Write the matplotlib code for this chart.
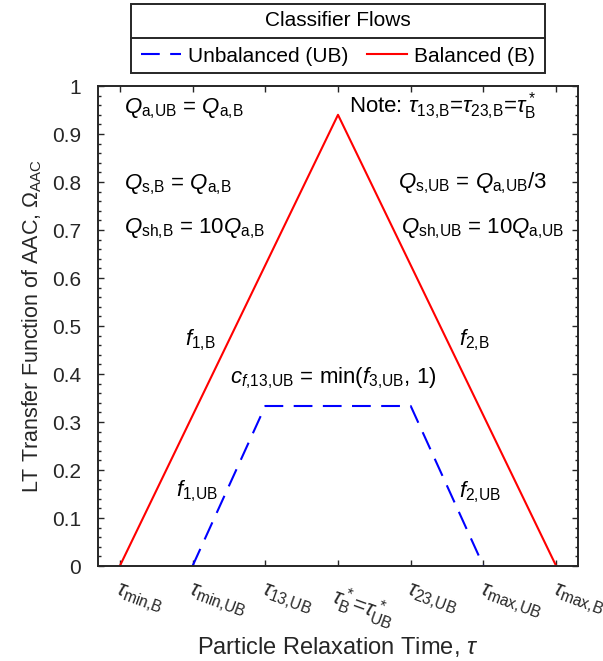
#Plot of LT transfer function of AAC, balanced vs unbalanced classifier flows
import matplotlib
matplotlib.use('Agg')
import matplotlib.pyplot as plt
from matplotlib.ticker import MultipleLocator, FixedLocator
from matplotlib.patches import Rectangle
from matplotlib.lines import Line2D

plt.rcParams['font.family'] = 'Liberation Sans'
plt.rcParams['mathtext.fontset'] = 'custom'
plt.rcParams['mathtext.rm'] = 'Liberation Sans'
plt.rcParams['mathtext.it'] = 'Liberation Sans:italic'
plt.rcParams['mathtext.bf'] = 'Liberation Sans:bold'

#################################################
# Data
#################################################
tau_pos = [0, 1, 2, 3, 4, 5, 6]
tau_labels = [r'$\tau_{\rm min{,}B}$', r'$\tau_{\rm min{,}UB}$', r'$\tau_{\rm 13{,}UB}$',
              r'$\tau^*_{\rm B}$=$\tau^*_{\rm UB}$', r'$\tau_{\rm 23{,}UB}$',
              r'$\tau_{\rm max{,}UB}$', r'$\tau_{\rm max{,}B}$']
#Balanced (B)
bal_x = [0, 3, 6]
bal_y = [0, 0.94, 0]
#Unbalanced (UB)
unb_x = [1, 2, 4, 5]
unb_y = [0, 1/3, 1/3, 0]

yticks = [0, 0.1, 0.2, 0.3, 0.4, 0.5, 0.6, 0.7, 0.8, 0.9, 1]
ylabels = ['0', '0.1', '0.2', '0.3', '0.4', '0.5', '0.6', '0.7', '0.8', '0.9', '1']

#################################################
# Figure
#################################################
fig = plt.figure(figsize=(6.03, 6.61), dpi=100)
ax = fig.add_axes([98/603, 1-566/661, 480/603, 480/661])

dk = (0.15, 0.15, 0.15)
l_unb, = ax.plot(unb_x, unb_y, color=(0, 0, 1), lw=1.5, linestyle=(0, (9, 5)))
l_bal, = ax.plot(bal_x, bal_y, color=(1, 0, 0), lw=1.5)

ax.set_xlim(-0.3, 6.3)
ax.set_ylim(0, 1)
ax.xaxis.set_major_locator(FixedLocator(tau_pos))
ax.set_xticklabels(tau_labels, rotation=-20, ha='left', rotation_mode='anchor', fontsize=16)
ax.set_yticks(yticks)
ax.set_yticklabels(ylabels)
ax.yaxis.set_minor_locator(MultipleLocator(0.02))
ax.tick_params(which='both', direction='in', top=True, right=True, color=dk,
               labelcolor=dk, width=1.0)
ax.tick_params(axis='y', which='major', length=4.5, pad=12, labelsize=15)
ax.tick_params(axis='y', which='minor', length=2.5)
ax.tick_params(axis='x', which='major', length=4.5, pad=11)
for s in ax.spines.values():
    s.set_color(dk)
    s.set_linewidth(1.4)

ax.set_xlabel(r'Particle Relaxation Time, $\tau$', fontsize=17, color=dk, labelpad=1)
ax.set_ylabel(r'LT Transfer Function of AAC, $\mathit{\Omega}_{\rm AAC}$', fontsize=15.5,
              color=dk, labelpad=6)

#annotations
fs = 16
ax.text(0.055, 0.942, r'$Q_{\rm a{,}UB}$ = $Q_{\rm a{,}B}$', fontsize=fs, va='baseline')
ax.text(0.055, 0.785, r'$Q_{\rm s{,}B}$ = $Q_{\rm a{,}B}$', fontsize=fs, va='baseline')
ax.text(0.055, 0.692, r'$Q_{\rm sh{,}B}$ = 10$Q_{\rm a{,}B}$', fontsize=fs, va='baseline')
ax.text(3.15, 0.944, r'Note: $\tau_{\rm 13{,}B}$=$\tau_{\rm 23{,}B}$=$\tau^*_{\rm B}$', fontsize=fs, va='baseline')
ax.text(3.83, 0.787, r'$Q_{\rm s{,}UB}$ = $Q_{\rm a{,}UB}$/3', fontsize=fs, va='baseline')
ax.text(3.86, 0.692, r'$Q_{\rm sh{,}UB}$ = 10$Q_{\rm a{,}UB}$', fontsize=fs, va='baseline')
ax.text(0.9, 0.46, r'$f_{\rm 1{,}B}$', fontsize=fs, va='baseline')
ax.text(4.67, 0.46, r'$f_{\rm 2{,}B}$', fontsize=fs, va='baseline')
ax.text(1.52, 0.381, r'$c_{f\rm {,}13{,}UB}$ = min($f_{\rm 3{,}UB}$, 1)', fontsize=fs, va='baseline')
ax.text(0.77, 0.144, r'$f_{\rm 1{,}UB}$', fontsize=fs, va='baseline')
ax.text(4.66, 0.142, r'$f_{\rm 2{,}UB}$', fontsize=fs, va='baseline')

#legend box (MATLAB style with title section)
fig.patches.append(Rectangle((131/603, 1-73/661), 414/603, 69/661, transform=fig.transFigure,
                             fill=True, facecolor='white', edgecolor=dk, lw=1.4))
fig.lines.append(Line2D([131/603, 545/603], [1-38/661, 1-38/661], transform=fig.transFigure,
                        color=dk, lw=1.4))
fig.text(338/603, 1-21/661, 'Classifier Flows', fontsize=15, ha='center', va='center')
fig.legend([l_unb, l_bal], ['Unbalanced (UB)', 'Balanced (B)'], ncol=2, frameon=False,
           loc='center', bbox_to_anchor=(338/603, 1-56/661), fontsize=15,
           handlelength=1.9, handletextpad=0.35, columnspacing=0.9, borderpad=0)

fig.savefig('out.png', dpi=100)
